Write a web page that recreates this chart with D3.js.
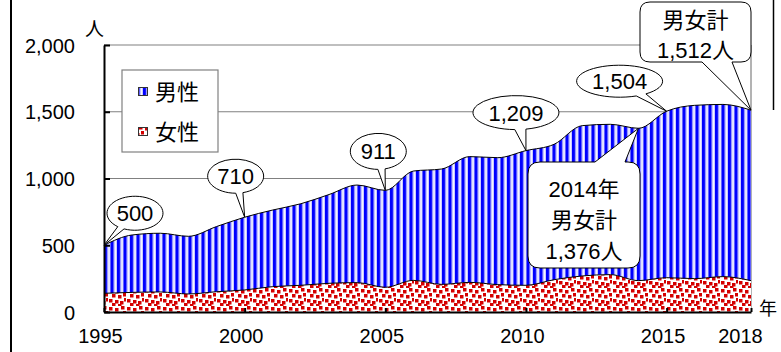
<!DOCTYPE html>
<html><head><meta charset="utf-8">
<script src="https://cdn.jsdelivr.net/npm/d3@7"></script>
<style>body{margin:0;background:#fff}svg{display:block}</style>
</head><body>
<svg id="c" width="781" height="352"></svg>
<script>
// ---- data ----
const years  = [1995,1996,1997,1998,1999,2000,2001,2002,2003,2004,2005,2006,2007,2008,2009,2010,2011,2012,2013,2014,2015,2016,2017,2018];
const female = [140,147,150,135,152,165,190,200,215,220,185,237,207,222,205,200,242,270,280,235,257,250,265,235];
const male   = [360,430,440,432,488,545,574,611,665,731,726,819,864,942,951,1009,1014,1126,1126,1141,1247,1298,1290,1277];
const seriesNames = ["男性","女性"];
const yTicks = [0,500,1000,1500,2000];
const xTicks = [1995,2000,2005,2010,2015,2018];
const yUnit = "人", xUnit = "年";
const ovalYears = [1995,2000,2005,2010,2015];
const boxTotalLabel = "男女計";
const boxYearA = 2018, boxYearB = 2014;

// ---- setup ----
const svg = d3.select("#c");
const MIX = "'Liberation Sans','Noto Sans CJK JP',sans-serif";
const x = d3.scaleLinear().domain([1995,2018]).range([104,751]);
const y = d3.scaleLinear().domain([0,2000]).range([312,45]);
const fmt = d3.format(",");

const rows = years.map((yr,i)=>({year:yr, female:female[i], male:male[i]}));
const stack = d3.stack().keys(["female","male"])(rows);
const total = yr => { const i = years.indexOf(yr); return female[i]+male[i]; };

// frame
svg.append("line").attr("x1",11).attr("x2",11).attr("y1",0).attr("y2",352).attr("stroke","#000").attr("stroke-width",2);
svg.append("line").attr("x1",773.5).attr("x2",773.5).attr("y1",0).attr("y2",110).attr("stroke","#000").attr("stroke-width",1.5);

// patterns
const defs = svg.append("defs");
const pm = defs.append("pattern").attr("id","pMale").attr("patternUnits","userSpaceOnUse").attr("width",6.5).attr("height",10);
pm.append("rect").attr("width",6.5).attr("height",10).attr("fill","#fff");
pm.append("rect").attr("x",0).attr("width",3).attr("height",10).attr("fill","#0000ff");
pm.append("rect").attr("x",3).attr("width",1).attr("height",10).attr("fill","#7070ff");
pm.append("rect").attr("x",5.5).attr("width",1).attr("height",10).attr("fill","#c8c8ff");
const pf = defs.append("pattern").attr("id","pFemale").attr("patternUnits","userSpaceOnUse").attr("width",18).attr("height",18);
pf.append("rect").attr("width",18).attr("height",18).attr("fill","#fff");
[[1,1],[7,2],[13,0],[4,6],[10,7],[15,5],[1,11],[7,12],[12,13],[4,15],[16,10],[10,16]].forEach(([a,b])=>{
  pf.append("rect").attr("x",a).attr("y",b).attr("width",3.5).attr("height",3.5).attr("fill","#d40000");
});

// gridlines
svg.append("g").selectAll("line").data(yTicks.filter(d=>d>0)).join("line")
  .attr("x1",x(1995)).attr("x2",x(2018)).attr("y1",d=>y(d)).attr("y2",d=>y(d))
  .attr("stroke","#808080").attr("stroke-width",1.2);
svg.append("line").attr("x1",x(2018)).attr("x2",x(2018)).attr("y1",y(2000)).attr("y2",y(0)).attr("stroke","#808080").attr("stroke-width",1.2);

// areas
const area = d3.area().x(d=>x(d.data.year)).y0(d=>y(d[0])).y1(d=>y(d[1])).curve(d3.curveMonotoneX);
const line = d3.line().x(d=>x(d.data.year)).y(d=>y(d[1])).curve(d3.curveMonotoneX);
svg.append("path").datum(stack[0]).attr("d",area).attr("fill","url(#pFemale)");
svg.append("path").datum(stack[1]).attr("d",area).attr("fill","url(#pMale)");
svg.append("path").datum(stack[0]).attr("d",line).attr("fill","none").attr("stroke","#000").attr("stroke-width",1);
svg.append("path").datum(stack[1]).attr("d",line).attr("fill","none").attr("stroke","#000").attr("stroke-width",1);

// axes
const ya = svg.append("g").attr("transform",`translate(${x(1995)},0)`)
  .call(d3.axisLeft(y).tickValues(yTicks).tickFormat(fmt).tickSizeInner(-6).tickSizeOuter(0).tickPadding(29));
const xa = svg.append("g").attr("transform",`translate(0,${y(0)})`)
  .call(d3.axisBottom(x).tickValues(xTicks).tickFormat(d3.format("d")).tickSizeInner(-4).tickSizeOuter(0).tickPadding(17));
[ya,xa].forEach(g=>{
  g.select(".domain").attr("stroke","#000").attr("stroke-width",2);
  g.selectAll(".tick line").attr("stroke","#000").attr("stroke-width",2);
  g.selectAll("text").attr("font-family",MIX).attr("font-size",20).attr("fill","#000");
});
xa.selectAll(".tick text").attr("dx",d=>d===2018?-11:-4);
ya.selectAll(".tick text").attr("dy","0.35em");

svg.append("text").attr("x",85).attr("y",36).attr("font-family",MIX).attr("font-size",19).text(yUnit);
svg.append("text").attr("x",759).attr("y",315).attr("font-family",MIX).attr("font-size",18).text(xUnit);

// legend
const lg = svg.append("g");
lg.append("rect").attr("x",122).attr("y",70).attr("width",96).attr("height",82).attr("fill","#fff").attr("stroke","#808080").attr("stroke-width",1.2);
const lgItems = [{n:seriesNames[0],p:"url(#pMale)",yy:87},{n:seriesNames[1],p:"url(#pFemale)",yy:127}];
lgItems.forEach(it=>{
  lg.append("rect").attr("x",138.5).attr("y",it.yy+0.5).attr("width",9).attr("height",8).attr("fill",it.p).attr("stroke","#333").attr("stroke-width",1);
  lg.append("text").attr("x",155).attr("y",it.yy+13).attr("font-family",MIX).attr("font-size",22).text(it.n);
});

// oval callouts
const ovalLayout = {1995:{dx:31,dy:-32,rx:28,ry:17},2000:{dx:-9,dy:-41,rx:28,ry:17},2005:{dx:-7,dy:-39,rx:28,ry:18},
                    2010:{dx:-10,dy:-38,rx:43,ry:17},2015:{dx:-47,dy:-30,rx:43,ry:16}};
ovalYears.forEach(yr=>{
  const L = ovalLayout[yr];
  const tx = x(yr), ty = y(total(yr));
  const cx = tx+L.dx, cy = ty+L.dy;
  const phi = Math.atan2((ty-cy)/L.ry,(tx-cx)/L.rx);
  const d = 0.13;
  const A = [cx+L.rx*Math.cos(phi-d), cy+L.ry*Math.sin(phi-d)];
  const B = [cx+L.rx*Math.cos(phi+d), cy+L.ry*Math.sin(phi+d)];
  svg.append("path").attr("d",`M${B[0]},${B[1]} A${L.rx},${L.ry} 0 1 1 ${A[0]},${A[1]} L${tx},${ty} Z`)
    .attr("fill","#fff").attr("stroke","#000").attr("stroke-width",1);
  svg.append("text").attr("x",cx).attr("y",cy+8).attr("text-anchor","middle").attr("font-family",MIX).attr("font-size",22).text(fmt(total(yr)));
});

// box callouts
function boxPath(x0,y0,x1,y1,r,side,b1,b2,tip){
  let p = `M${x0+r},${y0}`;
  if(side==="top") p += ` H${b1} L${tip[0]},${tip[1]} L${b2},${y0}`;
  p += ` H${x1-r} Q${x1},${y0} ${x1},${y0+r} V${y1-r} Q${x1},${y1} ${x1-r},${y1}`;
  if(side==="bottom") p += ` H${b2} L${tip[0]},${tip[1]} L${b1},${y1}`;
  p += ` H${x0+r} Q${x0},${y1} ${x0},${y1-r} V${y0+r} Q${x0},${y0} ${x0+r},${y0} Z`;
  return p;
}
{
  const tip = [x(boxYearA), y(total(boxYearA))];
  svg.append("path").attr("d",boxPath(640,2,751,62,10,"bottom",702,732,tip)).attr("fill","#fff").attr("stroke","#000").attr("stroke-width",1);
  svg.append("text").attr("x",695.5).attr("y",28).attr("text-anchor","middle").attr("font-family",MIX).attr("font-size",22).text(boxTotalLabel);
  svg.append("text").attr("x",695.5).attr("y",58).attr("text-anchor","middle").attr("font-family",MIX).attr("font-size",22).text(fmt(total(boxYearA))+yUnit);
}
{
  const tip = [x(boxYearB), y(total(boxYearB))];
  svg.append("path").attr("d",boxPath(528,162,640,268,12,"top",595,625,tip)).attr("fill","#fff").attr("stroke","#000").attr("stroke-width",1);
  const lines = [boxYearB+xUnit, boxTotalLabel, fmt(total(boxYearB))+yUnit];
  lines.forEach((t,i)=>svg.append("text").attr("x",584).attr("y",197+31*i).attr("text-anchor","middle").attr("font-family",MIX).attr("font-size",22).text(t));
}
</script>
</body></html>
